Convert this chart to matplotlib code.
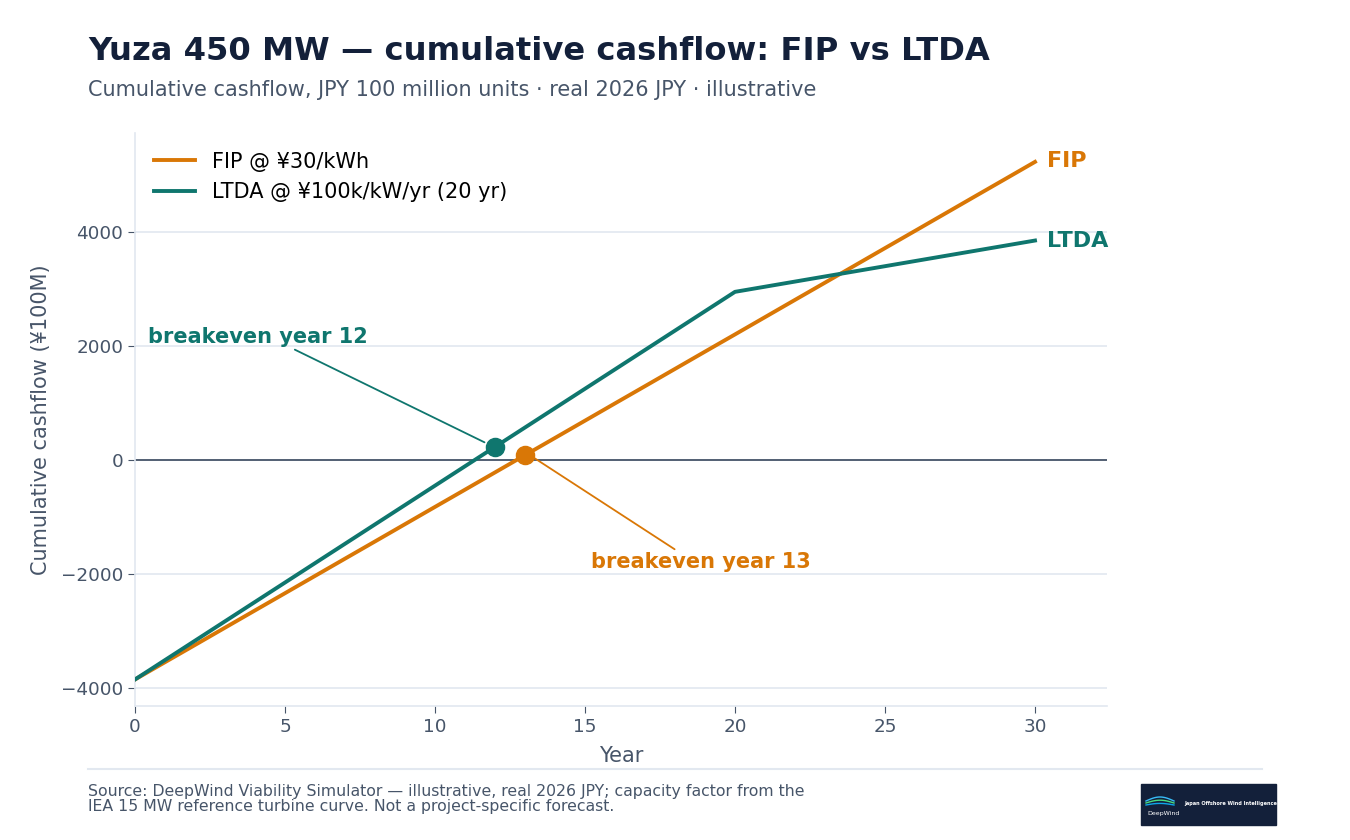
import matplotlib
matplotlib.use("Agg")
import matplotlib.pyplot as plt
from matplotlib.patches import Rectangle
import numpy as np

years = list(range(0, 31))
fip = [-3850, -3547, -3245, -2942, -2639, -2337, -2034, -1731, -1429, -1126,
       -823, -521, -218, 85, 387, 690, 993, 1295, 1598, 1901,
       2203, 2506, 2809, 3111, 3414, 3717, 4019, 4322, 4625, 4927, 5230]
ltda = [-3850, -3510, -3170, -2830, -2490, -2150, -1810, -1470, -1130, -790,
        -450, -110, 230, 570, 910, 1250, 1590, 1930, 2270, 2610,
        2950, 3040, 3130, 3220, 3310, 3400, 3490, 3580, 3670, 3760, 3850]
fip_label = "FIP @ ¥30/kWh"
ltda_label = "LTDA @ ¥100k/kW/yr (20 yr)"
fip_breakeven = 13
ltda_breakeven = 12
xticks = [0, 5, 10, 15, 20, 25, 30]
yticks = [-4000, -2000, 0, 2000, 4000]

ORANGE = "#d97706"
TEAL = "#0f766e"
DARK = "#13203a"
SLATE = "#475569"
GRID = "#e2e8f0"

plt.rcParams['font.family'] = ['DejaVu Sans']
fig = plt.figure(figsize=(13.5, 8.4), dpi=100)
ax = fig.add_axes([0.1, 0.1595, 0.72, 0.6822])

ax.plot(years, fip, color=ORANGE, lw=2.8, label=fip_label, zorder=3)
ax.plot(years, ltda, color=TEAL, lw=2.8, label=ltda_label, zorder=3)
ax.axhline(0, color=SLATE, lw=1.3, zorder=2)

ax.scatter([ltda_breakeven], [ltda[ltda_breakeven]], s=170, color=TEAL, zorder=5)
ax.scatter([fip_breakeven], [fip[fip_breakeven]], s=170, color=ORANGE, zorder=5)

ax.set_xlim(0, 32.4)
ax.set_ylim(-4316, 5737)
ax.set_xticks(xticks)
ax.set_yticks(yticks)
ax.yaxis.grid(True, color=GRID, lw=1.2)
ax.set_axisbelow(True)
for s in ["top", "right"]:
    ax.spines[s].set_visible(False)
for s in ["left", "bottom"]:
    ax.spines[s].set_color(GRID)
    ax.spines[s].set_linewidth(1.2)
ax.tick_params(colors=SLATE, labelsize=13.2, length=5, color=SLATE)
ax.set_xlabel("Year", fontsize=15, color=SLATE, labelpad=7)
ax.set_ylabel("Cumulative cashflow (¥100M)", fontsize=15, color=SLATE, labelpad=7)

leg = ax.legend(loc="upper left", frameon=False, fontsize=15, handlelength=2.0,
                borderaxespad=0.5, bbox_to_anchor=(0.0, 1.0))

ax.annotate("breakeven year 12", xy=(ltda_breakeven - 0.35, ltda[ltda_breakeven] + 80),
            xytext=(0.45, 2160), fontsize=15, fontweight="bold", color=TEAL,
            ha="left", va="center",
            arrowprops=dict(arrowstyle="-", color=TEAL, lw=1.3, shrinkA=0, shrinkB=0,
                            relpos=(0.64, 0.0)))
ax.annotate("breakeven year 13", xy=(fip_breakeven + 0.25, fip[fip_breakeven] - 30),
            xytext=(15.2, -1790), fontsize=15, fontweight="bold", color=ORANGE,
            ha="left", va="center",
            arrowprops=dict(arrowstyle="-", color=ORANGE, lw=1.3, shrinkA=0, shrinkB=0,
                            relpos=(0.40, 1.0)))

ax.text(30.4, fip[-1] + 20, "FIP", color=ORANGE, fontsize=16, fontweight="bold", va="center", ha="left")
ax.text(30.4, ltda[-1] - 5, "LTDA", color=TEAL, fontsize=16, fontweight="bold", va="center", ha="left")

fig.text(88 / 1350, 1 - 52 / 840, "Yuza 450 MW — cumulative cashflow: FIP vs LTDA",
         fontsize=23.2, fontweight="bold", color=DARK, ha="left", va="center")
fig.text(88 / 1350, 1 - 90 / 840, "Cumulative cashflow, JPY 100 million units · real 2026 JPY · illustrative",
         fontsize=15, color=SLATE, ha="left", va="center")

fig.add_artist(plt.Line2D([88 / 1350, 1262 / 1350], [1 - 769 / 840] * 2, color=GRID, lw=1.5))
fig.text(88 / 1350, 1 - 799 / 840,
         "Source: DeepWind Viability Simulator — illustrative, real 2026 JPY; capacity factor from the\n"
         "IEA 15 MW reference turbine curve. Not a project-specific forecast.",
         fontsize=11.35, color=SLATE, ha="left", va="center", linespacing=1.05)

# logo
lx, ly, lw_, lh = 1141 / 1350, 1 - 825 / 840, 135 / 1350, 41 / 840
fig.add_artist(Rectangle((lx, ly), lw_, lh, transform=fig.transFigure, color="#13203a", zorder=1))
fig.text(lx + 6 / 1350, ly + 12 / 840, "DeepWind", fontsize=4.5, color="white", ha="left", va="center")
fig.text(lx + 43 / 1350, ly + 21 / 840, "Japan Offshore Wind Intelligence", fontsize=3.6,
         color="white", ha="left", va="center", fontweight="bold")
t = np.linspace(0, 1, 30)
for k, c in enumerate(["#38bdf8", "#4ade80", "#0ea5e9"]):
    xs = lx + (5 + 28 * t) / 1350
    ys = ly + (24 - 2 * k + 4 * np.sin(np.pi * t) * (1 - 0.3 * k)) / 840
    fig.add_artist(plt.Line2D(xs, ys, color=c, lw=1.0, transform=fig.transFigure))

fig.savefig("out.png", dpi=100, facecolor="white")
